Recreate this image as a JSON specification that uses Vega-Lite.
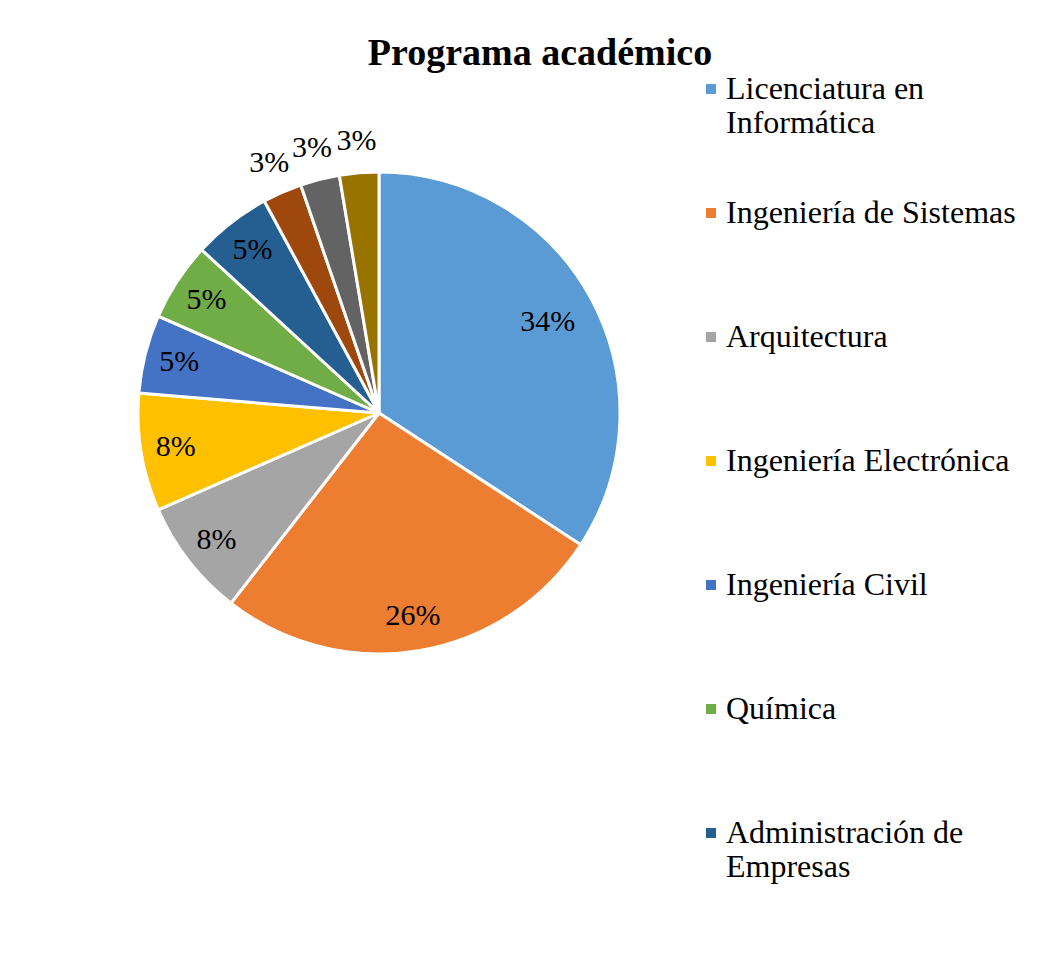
{
  "$schema": "https://vega.github.io/schema/vega-lite/v6.json",
  "width": 758,
  "height": 666,
  "autosize": {"type": "none"},
  "padding": {"left": 0, "top": 80, "right": 302, "bottom": 207},
  "background": "white",
  "title": {
    "text": "Programa académico",
    "font": "Liberation Serif",
    "fontSize": 38,
    "fontWeight": "bold",
    "color": "black",
    "anchor": "middle",
    "frame": "group",
    "dx": 161,
    "dy": 10,
    "offset": 10
  },
  "config": {
    "view": {"stroke": null},
    "text": {"font": "Liberation Serif"},
    "mark": {"font": "Liberation Serif"}
  },
  "data": {
    "values": [
      {"orden": 1, "programa": "Licenciatura en Informática", "cantidad": 13, "etiqueta": "34%"},
      {"orden": 2, "programa": "Ingeniería de Sistemas", "cantidad": 10, "etiqueta": "26%"},
      {"orden": 3, "programa": "Arquitectura", "cantidad": 3, "etiqueta": "8%"},
      {"orden": 4, "programa": "Ingeniería Electrónica", "cantidad": 3, "etiqueta": "8%"},
      {"orden": 5, "programa": "Ingeniería Civil", "cantidad": 2, "etiqueta": "5%"},
      {"orden": 6, "programa": "Química", "cantidad": 2, "etiqueta": "5%"},
      {"orden": 7, "programa": "Administración de Empresas", "cantidad": 2, "etiqueta": "5%"},
      {"orden": 8, "programa": "Programa 8", "cantidad": 1, "etiqueta": "3%"},
      {"orden": 9, "programa": "Programa 9", "cantidad": 1, "etiqueta": "3%"},
      {"orden": 10, "programa": "Programa 10", "cantidad": 1, "etiqueta": "3%"}
    ]
  },
  "encoding": {
    "theta": {"field": "cantidad", "type": "quantitative", "stack": true},
    "order": {"field": "orden", "type": "quantitative"}
  },
  "layer": [
    {
      "mark": {"type": "arc", "outerRadius": 241, "stroke": "white", "strokeWidth": 3},
      "encoding": {
        "color": {
          "field": "programa",
          "type": "nominal",
          "scale": {
            "domain": ["Licenciatura en Informática", "Ingeniería de Sistemas", "Arquitectura", "Ingeniería Electrónica", "Ingeniería Civil", "Química", "Administración de Empresas", "Programa 8", "Programa 9", "Programa 10"],
            "range": ["#5B9BD5", "#ED7D31", "#A5A5A5", "#FFC000", "#4472C4", "#70AD47", "#255E91", "#9E480E", "#636363", "#997300"]
          },
          "legend": {
            "orient": "none",
            "legendX": 695,
            "legendY": -7,
            "title": null,
            "values": ["Licenciatura en Informática", "Ingeniería de Sistemas", "Arquitectura", "Ingeniería Electrónica", "Ingeniería Civil", "Química", "Administración de Empresas"],
            "symbolType": "square",
            "symbolSize": 100,
            "symbolStrokeWidth": 0,
            "labelFont": "Liberation Serif",
            "labelFontSize": 32,
            "labelColor": "black",
            "labelOffset": -1,
            "labelLimit": 500,
            "rowPadding": 58,
            "gridAlign": "all",
            "direction": "vertical",
            "padding": 0,
            "labelExpr": "datum.label == 'Licenciatura en Informática' ? ['Licenciatura en', 'Informática'] : datum.label == 'Administración de Empresas' ? ['Administración de', 'Empresas'] : datum.label"
          }
        }
      }
    },
    {
      "mark": {"type": "text", "radius": 192, "font": "Liberation Serif", "fontSize": 30, "color": "black"},
      "encoding": {
        "detail": {"field": "programa", "type": "nominal"},
        "text": {"condition": {"test": "datum.orden == 1", "field": "etiqueta"}, "value": ""}
      }
    },
    {
      "mark": {"type": "text", "radius": 206, "font": "Liberation Serif", "fontSize": 30, "color": "black"},
      "encoding": {
        "detail": {"field": "programa", "type": "nominal"},
        "text": {"condition": {"test": "datum.orden > 1 && datum.cantidad > 1", "field": "etiqueta"}, "value": ""}
      }
    },
    {
      "mark": {"type": "text", "radius": 273, "font": "Liberation Serif", "fontSize": 30, "color": "black"},
      "encoding": {
        "detail": {"field": "programa", "type": "nominal"},
        "text": {"condition": {"test": "datum.cantidad == 1", "field": "etiqueta"}, "value": ""}
      }
    }
  ]
}
